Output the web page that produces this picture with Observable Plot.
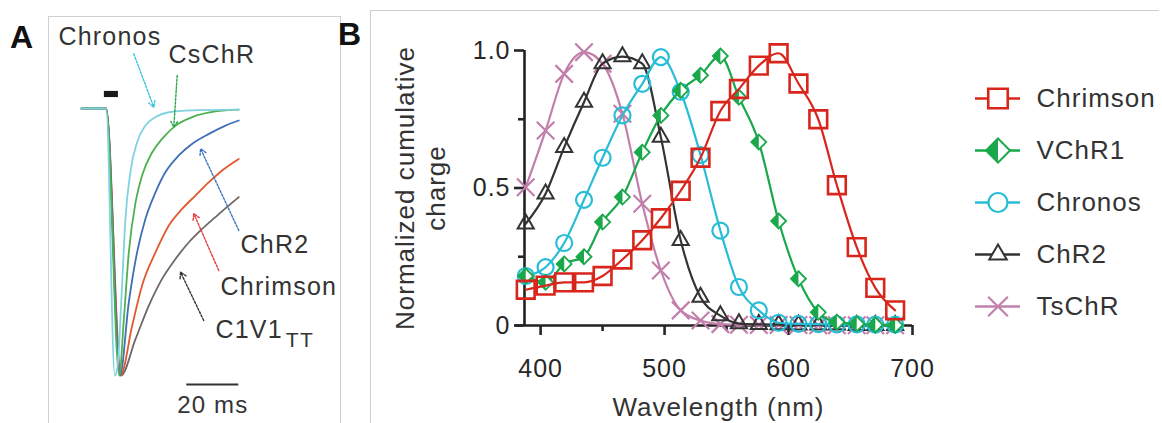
<!DOCTYPE html>
<html><head><meta charset="utf-8">
<script src="https://cdn.jsdelivr.net/npm/d3@7"></script>
<script src="https://cdn.jsdelivr.net/npm/@observablehq/plot@0.6"></script>
<style>
html,body{margin:0;padding:0;background:#fff;}
#root{position:relative;width:1162px;height:423px;overflow:hidden;font-family:"Liberation Sans",Arial,Helvetica,sans-serif;}
.box{position:absolute;box-sizing:border-box;border:1px solid #cfcfcf;border-bottom:none;}
.panel{position:absolute;}
.panel svg{overflow:visible;}
.panel text{letter-spacing:1px;}
#panelA text{letter-spacing:1.2px;}
</style></head><body>
<div id="root">
  <div class="box" style="left:48px;top:16px;width:293px;height:430px"></div>
  <div class="box" style="left:370px;top:10px;width:789px;height:430px;border-right:none"></div>
  <div class="panel" id="panelA" style="left:48px;top:16px"></div>
  <div class="panel" id="panelB" style="left:371px;top:10px"></div>
  <div class="panel" id="legendB" style="left:960px;top:40px"></div>
  <svg class="panel" style="left:0;top:0" width="1162" height="60">
    <text x="10" y="48" font-size="32" font-weight="bold" font-family="Liberation Sans, Arial, sans-serif" fill="#111">A</text>
    <text x="338" y="45" font-size="32" font-weight="bold" font-family="Liberation Sans, Arial, sans-serif" fill="#111">B</text>
  </svg>
</div>
<script>
// ================= Panel A data: normalized photocurrent traces (time ms, current) =================
const traceNamesA = ["C1V1TT", "Chrimson", "ChR2", "CsChR", "Chronos"];
const traceC1V1 = [[0,0],[9.5,0],[15.2,-1],[20.8,-0.863],[25.9,-0.738],[31,-0.638],[36.2,-0.563],[41.3,-0.501],[46.4,-0.451],[51.5,-0.407],[56.7,-0.363],[60.5,-0.332]];
const traceChrimson = [[0,0],[9.5,0],[15,-1],[19.5,-0.813],[23.3,-0.663],[28.5,-0.538],[33.6,-0.438],[38.7,-0.376],[43.8,-0.326],[49,-0.276],[54.1,-0.232],[60.5,-0.189]];
const traceChR2 = [[0,0],[9.5,0],[14.8,-1],[18.2,-0.725],[21.4,-0.538],[24.6,-0.413],[28.5,-0.313],[32.3,-0.238],[37.4,-0.176],[42.6,-0.132],[49,-0.095],[55.4,-0.064],[60.5,-0.045]];
const traceCsChR = [[0,0],[9.5,0],[14.5,-1],[16.3,-0.788],[18.2,-0.538],[20.8,-0.351],[23.3,-0.251],[27.2,-0.164],[31,-0.114],[36.2,-0.064],[42.6,-0.032],[51.5,-0.011],[60.5,-0.004]];
const traceChronos = [[0,0],[9.5,0],[12.8,-1],[13.8,-0.97],[15.6,-0.663],[16.9,-0.413],[18.8,-0.238],[21.4,-0.126],[24.6,-0.064],[28.5,-0.032],[33.6,-0.014],[42.6,-0.007],[60.5,-0.004]];
const lightPulse = {start: 8.8, end: 14.2};
const scaleBarMs = 20;
const scaleBarEnd = 60.5;
// labels: text and anchor (ms, current)
const labelsA = [
  {text: "Chronos", t: -8.85, I: 0.236},
  {text: "CsChR", t: 33.5, I: 0.169},
  {text: "ChR2", t: 61.2, I: -0.543},
  {text: "Chrimson", t: 53.5, I: -0.700},
  {text: "C1V1", t: 51.5, I: -0.858}
];
const subLabelA = {text: "TT", t: 78.6, I: -0.895};
const arrowsA = [
  {name: "Chronos", x1: 20.1, y1: 0.205, x2: 27.8, y2: 0.005},
  {name: "CsChR", x1: 36.8, y1: 0.124, x2: 35.5, y2: -0.070},
  {name: "ChR2", x1: 60.5, y1: -0.457, x2: 45.8, y2: -0.151},
  {name: "Chrimson", x1: 52.8, y1: -0.607, x2: 43.2, y2: -0.394},
  {name: "C1V1TT", x1: 47.0, y1: -0.794, x2: 38.1, y2: -0.613}
];

// ================= Panel B data: action spectra =================
const wavelengths = [388, 404, 419, 435, 450, 466, 482, 497, 513, 529, 545, 560, 576, 592, 608, 624, 639, 655, 670, 686];
const chrimson = [0.13, 0.145, 0.157, 0.157, 0.18, 0.24, 0.31, 0.39, 0.49, 0.61, 0.78, 0.86, 0.945, 0.99, 0.88, 0.75, 0.51, 0.285, 0.137, 0.055];
const vchr1 = [0.18, 0.157, 0.224, 0.25, 0.376, 0.467, 0.63, 0.764, 0.855, 0.91, 0.98, 0.83, 0.667, 0.38, 0.17, 0.048, 0.012, 0.006, 0.002, 0.001];
const chronos = [0.18, 0.212, 0.30, 0.457, 0.61, 0.764, 0.879, 0.976, 0.85, 0.62, 0.345, 0.14, 0.055, 0.01, 0.006, 0.005, 0.004, 0.004, 0.003, 0.003];
const chr2 = [0.37, 0.479, 0.648, 0.812, 0.952, 0.978, 0.952, 0.685, 0.31, 0.103, 0.036, 0.007, 0.004, 0.003, 0.002, 0.002, 0.002, 0.001, 0.001, 0.001];
const tschr = [0.503, 0.709, 0.915, 0.994, 0.952, 0.77, 0.443, 0.2, 0.055, 0.018, 0.005, 0.003, 0.002, 0.002, 0.002, 0.001, 0.001, 0.001, 0.001, 0.001];
const seriesNames = ["Chrimson", "VChR1", "Chronos", "ChR2", "TsChR"];
const xTicksMajor = [400, 500, 600, 700];
const xTicksMinor = [450, 550, 650];
const yTicksMajor = [0, 0.5, 1];
const yTickLabels = ["0", "0.5", "1.0"];
const yTicksMinor = [0.25, 0.75];

// ================= styles =================
const FONT = "Liberation Sans, Arial, Helvetica, sans-serif";
const traceColorsA = {"C1V1TT": "#6f6764", "Chrimson": "#e3582f", "ChR2": "#3f6fb5", "CsChR": "#4db14f", "Chronos": "#80d2e0"};
const arrowColorsA = {"C1V1TT": "#333333", "Chrimson": "#e0403c", "ChR2": "#3b78bd", "CsChR": "#2aa84a", "Chronos": "#3cc4dc"};
const seriesColors = {"Chrimson": "#d8261c", "VChR1": "#1aa84b", "Chronos": "#28bdd6", "ChR2": "#333333", "TsChR": "#c27fab"};

const diamondFull = {draw(ctx, size) { const h = Math.sqrt(size / Math.PI); ctx.moveTo(0, -h); ctx.lineTo(h, 0); ctx.lineTo(0, h); ctx.lineTo(-h, 0); ctx.closePath(); }};
const diamondLeft = {draw(ctx, size) { const h = Math.sqrt(size / Math.PI); ctx.moveTo(0, -h); ctx.lineTo(0, h); ctx.lineTo(-h, 0); ctx.closePath(); }};

// ================= Panel A =================
const tracesA = {"C1V1TT": traceC1V1, "Chrimson": traceChrimson, "ChR2": traceChR2, "CsChR": traceCsChR, "Chronos": traceChronos};
const marksA = [];
for (const name of traceNamesA) {
  const rows = tracesA[name].map(([t, I]) => ({t, I}));
  marksA.push(Plot.line(rows, {x: "t", y: "I", stroke: traceColorsA[name], strokeWidth: 1.8, curve: "monotone-x"}));
}
marksA.push(Plot.rect([lightPulse], {x1: "start", x2: "end", y1: 0.041, y2: 0.064, fill: "#1a1a1a"}));
marksA.push(Plot.ruleY([-1.034], {x1: scaleBarEnd - scaleBarMs, x2: scaleBarEnd, stroke: "#333", strokeWidth: 2}));
marksA.push(Plot.text([`${scaleBarMs} ms`], {x: scaleBarEnd - scaleBarMs / 2, y: -1.142, text: d => d, textAnchor: "middle", lineAnchor: "bottom", fontSize: 24, fill: "#333"}));
for (const a of arrowsA) {
  marksA.push(Plot.arrow([a], {x1: "x1", y1: "y1", x2: "x2", y2: "y2", stroke: arrowColorsA[a.name], strokeWidth: 1.4, strokeDasharray: "2.2,1.6", headLength: 7}));
}
marksA.push(Plot.text(labelsA, {x: "t", y: "I", text: "text", textAnchor: "start", lineAnchor: "bottom", fontSize: 25, fill: "#333"}));
marksA.push(Plot.text([subLabelA], {x: "t", y: "I", text: "text", textAnchor: "start", lineAnchor: "bottom", fontSize: 21, fill: "#333"}));

const plotA = Plot.plot({
  width: 292, height: 407, margin: 0,
  x: {domain: [0, 60], range: [33, 189], axis: null},
  y: {domain: [0, -1], range: [92, 359], axis: null},
  style: {background: "transparent", fontFamily: FONT, color: "#333", overflow: "visible"},
  marks: marksA
});
document.getElementById("panelA").appendChild(plotA);

// ================= Panel B =================
const valuesB = {"Chrimson": chrimson, "VChR1": vchr1, "Chronos": chronos, "ChR2": chr2, "TsChR": tschr};
const drawOrder = ["TsChR", "ChR2", "Chronos", "VChR1", "Chrimson"];
const xDomain = [387, 700];
const marksB = [
  Plot.ruleY([0], {x1: 380, x2: xDomain[1], stroke: "#222", strokeWidth: 2.6}),
  Plot.ruleX([xDomain[0]], {y1: 0, y2: 1, stroke: "#222", strokeWidth: 2.6}),
  Plot.axisX({ticks: xTicksMajor, tickSize: 10, tickPadding: 24, fontSize: 25, strokeWidth: 2.6, label: null, color: "#262626"}),
  Plot.axisX({ticks: xTicksMinor, tickSize: 6, text: null, strokeWidth: 2.6, label: null, color: "#262626"}),
  Plot.axisY({ticks: yTicksMajor, tickFormat: d => yTickLabels[yTicksMajor.indexOf(d)], tickSize: 10, tickPadding: 4, fontSize: 25, strokeWidth: 2.6, label: null, color: "#262626"}),
  Plot.axisY({ticks: yTicksMinor, tickSize: 6, text: null, strokeWidth: 2.6, label: null, color: "#262626"}),
  Plot.text(["Wavelength (nm)"], {frameAnchor: "bottom", textAnchor: "middle", lineAnchor: "bottom", dy: 90, text: d => d, fontSize: 26, fill: "#333"}),
  Plot.text(["Normalized cumulative"], {frameAnchor: "left", textAnchor: "middle", lineAnchor: "bottom", rotate: -90, dx: -111, text: d => d, fontSize: 26, fill: "#333"}),
  Plot.text(["charge"], {frameAnchor: "left", textAnchor: "middle", lineAnchor: "bottom", rotate: -90, dx: -80, text: d => d, fontSize: 26, fill: "#333"})
];
for (const name of drawOrder) {
  const rows = wavelengths.map((wl, i) => ({wl, v: valuesB[name][i]}));
  const c = seriesColors[name];
  marksB.push(Plot.line(rows, {x: "wl", y: "v", stroke: c, strokeWidth: 2.2, curve: "monotone-x"}));
  if (name === "Chrimson") marksB.push(Plot.dot(rows, {x: "wl", y: "v", symbol: "square", r: 10, stroke: c, strokeWidth: 2.6, fill: "none"}));
  if (name === "Chronos") marksB.push(Plot.dot(rows, {x: "wl", y: "v", symbol: "circle", r: 8, stroke: c, strokeWidth: 2.2, fill: "none"}));
  if (name === "ChR2") marksB.push(Plot.dot(rows, {x: "wl", y: "v", symbol: "triangle", r: 6, stroke: c, strokeWidth: 2, fill: "none"}));
  if (name === "TsChR") marksB.push(Plot.dot(rows, {x: "wl", y: "v", symbol: "times", r: 8, stroke: c, strokeWidth: 2.2}));
  if (name === "VChR1") {
    marksB.push(Plot.dot(rows, {x: "wl", y: "v", symbol: diamondFull, r: 7.5, stroke: c, strokeWidth: 1.8, fill: "#ffffff"}));
    marksB.push(Plot.dot(rows, {x: "wl", y: "v", symbol: diamondLeft, r: 7.5, fill: c, stroke: "none"}));
  }
}
const plotB = Plot.plot({
  width: 791, height: 413, marginLeft: 153, marginRight: 250, marginTop: 40, marginBottom: 98,
  x: {domain: xDomain},
  y: {domain: [0, 1]},
  style: {background: "transparent", fontFamily: FONT, color: "#262626", overflow: "visible"},
  marks: marksB
});
document.getElementById("panelB").appendChild(plotB);

// ================= Legend =================
const legendMarks = [
  Plot.ruleY(seriesNames, {y: d => d, x1: 0, x2: 1, stroke: d => seriesColors[d], strokeWidth: 2.4})
];
for (const name of seriesNames) {
  const c = seriesColors[name];
  if (name === "Chrimson") legendMarks.push(Plot.dot([name], {x: 0.5, y: d => d, symbol: "square", r: 11, stroke: c, strokeWidth: 2.6, fill: "#fff"}));
  if (name === "Chronos") legendMarks.push(Plot.dot([name], {x: 0.5, y: d => d, symbol: "circle", r: 9.5, stroke: c, strokeWidth: 2.2, fill: "#fff"}));
  if (name === "ChR2") legendMarks.push(Plot.dot([name], {x: 0.5, y: d => d, symbol: "triangle", r: 6.5, stroke: c, strokeWidth: 2, fill: "#fff"}));
  if (name === "TsChR") legendMarks.push(Plot.dot([name], {x: 0.5, y: d => d, symbol: "times", r: 9, stroke: c, strokeWidth: 2.2}));
  if (name === "VChR1") {
    legendMarks.push(Plot.dot([name], {x: 0.5, y: d => d, symbol: diamondFull, r: 12, stroke: c, strokeWidth: 2, fill: "#fff"}));
    legendMarks.push(Plot.dot([name], {x: 0.5, y: d => d, symbol: diamondLeft, r: 12, fill: c, stroke: "none"}));
  }
}
legendMarks.push(Plot.text(seriesNames, {x: 1, y: d => d, dx: 16, text: d => d, textAnchor: "start", fontSize: 26, fill: "#333"}));
const legend = Plot.plot({
  width: 202, height: 320, margin: 0,
  x: {domain: [0, 1], range: [15, 60], axis: null},
  y: {type: "point", domain: seriesNames, range: [32, 292], axis: null},
  style: {background: "transparent", fontFamily: FONT, color: "#333", overflow: "visible"},
  marks: legendMarks
});
document.getElementById("legendB").appendChild(legend);
</script>
</body></html>
